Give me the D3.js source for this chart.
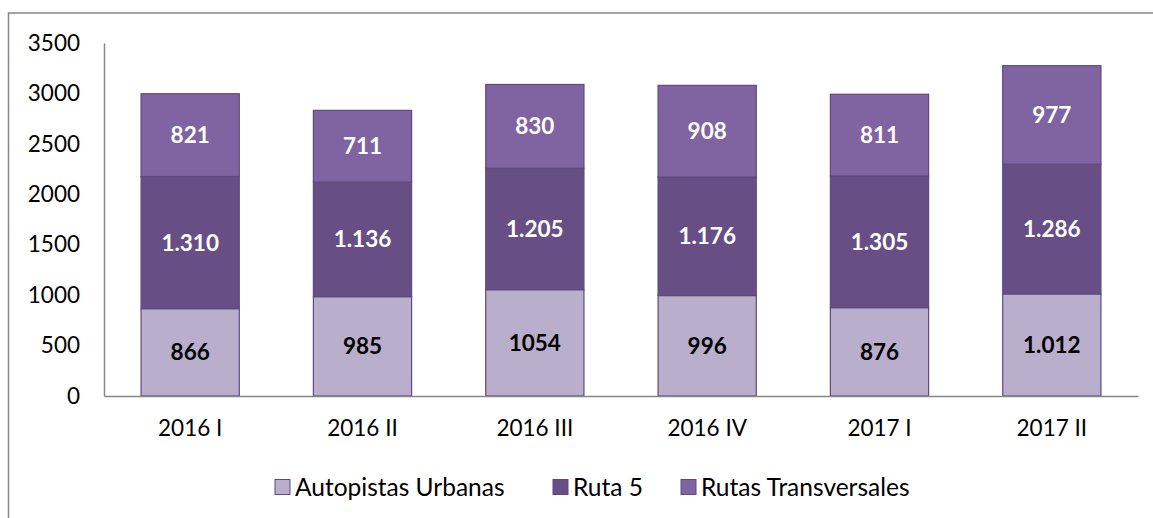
<!DOCTYPE html>
<html>
<head>
<meta charset="utf-8">
<script src="https://cdn.jsdelivr.net/npm/d3@7"></script>
<style>
  body { margin: 0; background: #fff; }
  text { font-family: Lato, "Open Sans", sans-serif; }
</style>
</head>
<body>
<div class="chart"></div>
<script>
var categories = ["2016 I", "2016 II", "2016 III", "2016 IV", "2017 I", "2017 II"];
var seriesNames = ["Autopistas Urbanas", "Ruta 5", "Rutas Transversales"];
var autopistas = [866, 985, 1054, 996, 876, 1012];
var ruta5 = [1310, 1136, 1205, 1176, 1305, 1286];
var transversales = [821, 711, 830, 908, 811, 977];
var autopistasLabels = ["866", "985", "1054", "996", "876", "1.012"];
var ruta5Labels = ["1.310", "1.136", "1.205", "1.176", "1.305", "1.286"];
var transversalesLabels = ["821", "711", "830", "908", "811", "977"];
var yTicks = [0, 500, 1000, 1500, 2000, 2500, 3000, 3500];

var colors = ["#b9aecb", "#674f86", "#8064a2"];
var labelColors = ["#000", "#fff", "#fff"];

var svgWidth = 1153;
var svgHeight = 518;

var svg = d3.select(".chart")
    .append("svg")
    .attr("width", svgWidth)
    .attr("height", svgHeight);

// outer chart border, runs off right and bottom
svg.append("rect")
    .attr("x", 8.5)
    .attr("y", 13)
    .attr("width", 1160)
    .attr("height", 530)
    .attr("fill", "none")
    .attr("stroke", "#868686")
    .attr("stroke-width", 1.5);

var plotLeft = 104, plotRight = 1138, plotTop = 43, plotBottom = 396;

var table = categories.map(function(c, i) {
    return {cat: c, a: autopistas[i], r: ruta5[i], t: transversales[i],
            labels: [autopistasLabels[i], ruta5Labels[i], transversalesLabels[i]]};
});

var stack = d3.stack().keys(["a", "r", "t"]);
var stacked = stack(table);

var x = d3.scaleBand()
    .domain(categories)
    .range([plotLeft, plotRight])
    .paddingInner(0.43)
    .paddingOuter(0.215);

var y = d3.scaleLinear()
    .domain([0, 3500])
    .range([plotBottom, plotTop]);

var layers = svg.selectAll(".layer")
    .data(stacked)
    .enter()
    .append("g")
    .attr("class", "layer");

layers.selectAll("rect")
    .data(function(d) { return d; })
    .enter()
    .append("rect")
    .attr("x", function(d) { return x(d.data.cat); })
    .attr("y", function(d) { return y(d[1]); })
    .attr("width", x.bandwidth())
    .attr("height", function(d) { return y(d[0]) - y(d[1]); })
    .attr("fill", function(d, i, nodes) { return colors[d3.select(nodes[i].parentNode).datum().index]; })
    .attr("stroke", "#5e4a7f")
    .attr("stroke-width", 1.2);

layers.each(function(layer) {
    d3.select(this).selectAll("text")
        .data(layer)
        .enter()
        .append("text")
        .attr("x", function(d) { return x(d.data.cat) + x.bandwidth() / 2; })
        .attr("y", function(d) { return (y(d[0]) + y(d[1])) / 2; })
        .attr("dy", "0.36em")
        .attr("text-anchor", "middle")
        .attr("font-size", 22.5)
        .attr("font-weight", "bold")
        .attr("fill", labelColors[layer.index])
        .text(function(d) { return d.data.labels[layer.index]; });
});

// axes
var leftAxis = d3.axisLeft(y).tickValues(yTicks).tickFormat(d3.format("d")).tickSize(0).tickPadding(24);
var gy = svg.append("g")
    .attr("transform", "translate(" + plotLeft + ",0)")
    .call(leftAxis);
gy.select(".domain").attr("stroke", "#868686").attr("stroke-width", 1.5);
gy.selectAll("text").attr("font-size", 22.5).attr("fill", "#000")
    .style("font-family", "Lato, 'Open Sans', sans-serif");

var bottomAxis = d3.axisBottom(x).tickSize(0).tickPadding(24);
var gx = svg.append("g")
    .attr("transform", "translate(0," + plotBottom + ")")
    .call(bottomAxis);
gx.select(".domain").attr("stroke", "#868686").attr("stroke-width", 1.5);
gx.selectAll("text").attr("font-size", 22.5).attr("fill", "#000")
    .style("font-family", "Lato, 'Open Sans', sans-serif");

// legend
var legendX = [275, 553, 681];
var legend = svg.selectAll(".legend")
    .data(seriesNames)
    .enter()
    .append("g")
    .attr("class", "legend")
    .attr("transform", function(d, i) { return "translate(" + legendX[i] + ",487)"; });

legend.append("rect")
    .attr("x", 0)
    .attr("y", -7.5)
    .attr("width", 15)
    .attr("height", 15)
    .attr("fill", function(d, i) { return colors[i]; })
    .attr("stroke", "#5e4a7f")
    .attr("stroke-width", 1);

legend.append("text")
    .attr("x", 20)
    .attr("dy", "0.36em")
    .attr("font-size", 24.5)
    .text(function(d) { return d; });
</script>
</body>
</html>
